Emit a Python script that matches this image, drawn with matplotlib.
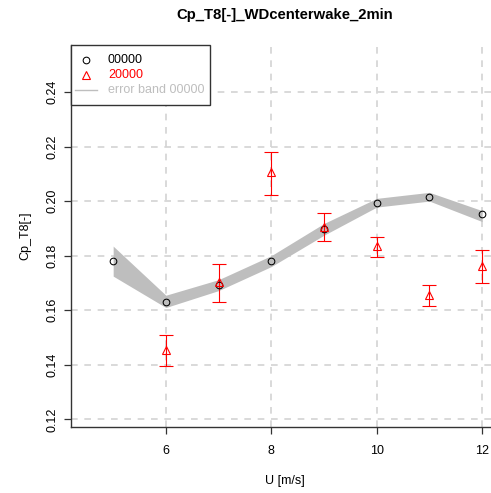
import matplotlib
matplotlib.use("Agg")
import matplotlib.pyplot as plt
from matplotlib.lines import Line2D
from matplotlib.patches import Rectangle

plt.rcParams['font.family'] = ['Liberation Sans', 'DejaVu Sans']

# Reference run 00000
u_ref = [5, 6, 7, 8, 9, 10, 11, 12]
cp_ref = [0.1781, 0.1630, 0.1694, 0.1780, 0.1896, 0.1994, 0.2016, 0.1952]
band_lo = [0.1725, 0.1610, 0.1672, 0.1760, 0.1875, 0.1978, 0.2000, 0.1925]
band_hi = [0.1835, 0.1655, 0.1712, 0.1800, 0.1918, 0.2010, 0.2032, 0.1965]

# Run 20000 with error bars
u_run = [6, 7, 8, 9, 10, 11, 12]
cp_run = [0.1453, 0.1704, 0.2105, 0.1906, 0.1835, 0.1655, 0.1761]
err_lo = [0.1395, 0.1630, 0.2022, 0.1855, 0.1796, 0.1617, 0.1698]
err_hi = [0.1509, 0.1770, 0.2180, 0.1955, 0.1870, 0.1691, 0.1820]

x_ticks = [6, 8, 10, 12]
y_ticks = [0.12, 0.14, 0.16, 0.18, 0.20, 0.22, 0.24]
legend_labels = ['00000', '20000', 'error band 00000']
legend_colors = ['black', 'red', '#bebebe']

W, H = 491, 493
fig = plt.figure(figsize=(W / 100, H / 100), dpi=100)
ax = fig.add_axes([71 / W, 1 - 427.3 / H, 428 / W, (427.3 - 45) / H])

ax.set_xlim(4.2, 12.32)
ax.set_ylim(0.1171, 0.2572)

for xv in x_ticks:
    ax.axvline(xv, color='#d3d3d3', lw=1.2, ls=(0, (4, 4)), zorder=0)
for yv in y_ticks:
    ax.axhline(yv, color='#d3d3d3', lw=1.2, ls=(0, (4, 4)), zorder=0)

ax.fill_between(u_ref, band_lo, band_hi, color='#bebebe', lw=0, zorder=1)

ax.plot(u_ref, cp_ref, ls='none', marker='o', ms=4.8, mfc='none', mec='black',
        mew=0.75, zorder=3)

yerr = [[c - lo for c, lo in zip(cp_run, err_lo)],
        [hi - c for c, hi in zip(cp_run, err_hi)]]
ax.errorbar(u_run, cp_run, yerr=yerr, fmt='none', ecolor='red', elinewidth=0.8,
            capsize=5, capthick=0.8, zorder=2)
ax.plot(u_run, cp_run, ls='none', marker='^', ms=6, mfc='none', mec='red',
        mew=0.8, zorder=3)

ax.spines['top'].set_visible(False)
ax.spines['right'].set_visible(False)
for s in ('left', 'bottom'):
    ax.spines[s].set_color('#333333')
    ax.spines[s].set_linewidth(1.0)

ax.set_xticks(x_ticks)
ax.set_xticklabels([str(v) for v in x_ticks])
ax.set_yticks(y_ticks)
ax.set_yticklabels([f"{v:.2f}" for v in y_ticks], rotation=90, va='center')
ax.tick_params(direction='out', length=5, width=0.9, color='#333333',
               labelsize=9)
ax.tick_params(axis='x', pad=8)
ax.tick_params(axis='y', pad=4)

ax.set_xlabel('U [m/s]', fontsize=9, labelpad=13)
ax.set_ylabel('Cp_T8[-]', fontsize=9, labelpad=11)
fig.text(285 / W, 1 - 15 / H, 'Cp_T8[-]_WDcenterwake_2min', ha='center',
         va='center', fontsize=10.7, fontweight='bold')

# Legend box in the top-left corner of the plot region
def fx(px):
    return px / W


def fy(py):
    return 1 - py / H


fig.add_artist(Rectangle((fx(71), fy(105)), fx(210) - fx(71), fy(45) - fy(105),
                         transform=fig.transFigure, facecolor='white',
                         edgecolor='#333333', lw=1.0, zorder=5))
rows = [60, 75, 90]
fig.add_artist(Line2D([fx(86)], [fy(rows[0])], transform=fig.transFigure,
                      ls='none', marker='o', ms=4.8, mfc='none', mec='black',
                      mew=0.75, zorder=6))
fig.add_artist(Line2D([fx(86)], [fy(rows[1])], transform=fig.transFigure,
                      ls='none', marker='^', ms=6, mfc='none', mec='red',
                      mew=0.8, zorder=6))
fig.add_artist(Line2D([fx(75), fx(97)], [fy(rows[2]), fy(rows[2])],
                      transform=fig.transFigure, color='#bebebe', lw=1.0,
                      zorder=6))
for ry, lab, col in zip(rows, legend_labels, legend_colors):
    fig.text(fx(108), fy(ry), lab, color=col, fontsize=9, ha='left',
             va='center', zorder=7)

fig.savefig('out.png', dpi=100)
